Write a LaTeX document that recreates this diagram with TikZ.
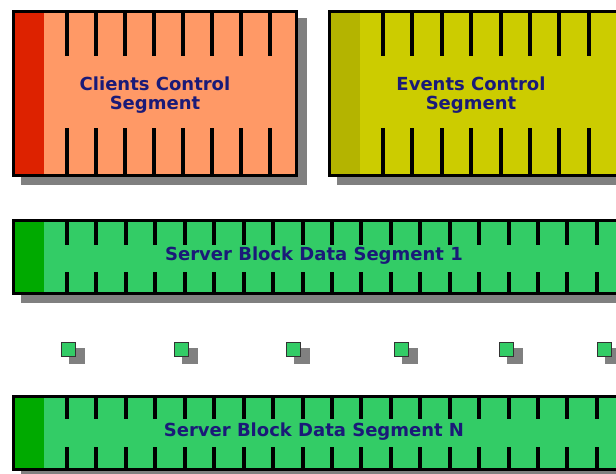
\documentclass[tikz,border=0pt]{standalone}
\usepackage{fontspec}
\setmainfont{DejaVu Sans}
\usetikzlibrary{calc}

\definecolor{labelblue}{HTML}{1A1A78}
\definecolor{shadowgray}{HTML}{808080}
\definecolor{clientfill}{HTML}{FF9966}
\definecolor{clientstrip}{HTML}{DD2200}
\definecolor{eventfill}{HTML}{CCCC00}
\definecolor{eventstrip}{HTML}{B4B400}
\definecolor{serverfill}{HTML}{33CC66}
\definecolor{serverstrip}{HTML}{00AA00}

\tikzset{
  shadowbox/.style={fill=shadowgray},
  segborder/.style={draw=black, line width=3pt},
  tickmark/.style={draw=black, line width=4pt},
  seglabel/.style={text=labelblue, font=\bfseries\fontsize{18}{19}\selectfont, align=center, inner sep=0pt},
  slotbox/.style={draw=black!80, line width=1.2pt, fill=serverfill},
}

% #1,#2 = top-left corner, #3,#4 = bottom-right corner (border centre line)
% #5 = body colour, #6 = strip colour
% #7 = first tick x, #8 = tick spacing, #9 = number of ticks
\newcommand\segbody[9]{%
  \fill[shadowbox] (#1+7.5,#2+6.5) rectangle (#3+10.5,#4+9.5);
  \fill[#5] (#1,#2) rectangle (#3,#4);
  \fill[#6] (#1,#2) rectangle (44,#4);
  \foreach \k in {1,...,#9} {
    \pgfmathsetmacro\tx{#7+(\k-1)*#8}
    \draw[tickmark] (\tx,#2) -- (\tx,\ttop);
    \draw[tickmark] (\tx,\tbot) -- (\tx,#4);
  }
  \draw[segborder] (#1,#2) rectangle (#3,#4);
}

\begin{document}
\begin{tikzpicture}[x=1pt,y=-1pt]
\useasboundingbox (0,0) rectangle (616,474);

% clients control segment
\def\ttop{56}\def\tbot{128}
\segbody{13.5}{11.5}{296.5}{175.5}{clientfill}{clientstrip}{66.7}{29.05}{8}
\node[seglabel] (clients) at (155,95) {Clients Control\\Segment};

% events control segment
\begin{scope}[xshift=316pt]
\segbody{13.5}{11.5}{304}{175.5}{eventfill}{eventstrip}{67}{29.4}{9}
\end{scope}
\node[seglabel] (events) at (471,95) {Events Control\\Segment};

% server block data segment 1
\def\ttop{245}\def\tbot{272}
\segbody{13.5}{220.5}{620}{293.5}{serverfill}{serverstrip}{67}{29.44}{20}
\node[seglabel] (seg1) at (314,256) {Server Block Data Segment 1};

% intermediate segments
\foreach \sx [count=\i] in {60,173,285,393,498,596} {
  \fill[shadowbox] (\sx+9,348) rectangle (\sx+25,364);
  \node[slotbox, minimum size=14.5pt, inner sep=0pt, anchor=north west] (slot\i) at (\sx+0.6,341.6) {};
}

% server block data segment N
\def\ttop{419}\def\tbot{447}
\segbody{13.5}{396.5}{620}{469.5}{serverfill}{serverstrip}{67}{29.44}{20}
\node[seglabel] (segN) at (314,432) {Server Block Data Segment N};
\end{tikzpicture}
\end{document}
